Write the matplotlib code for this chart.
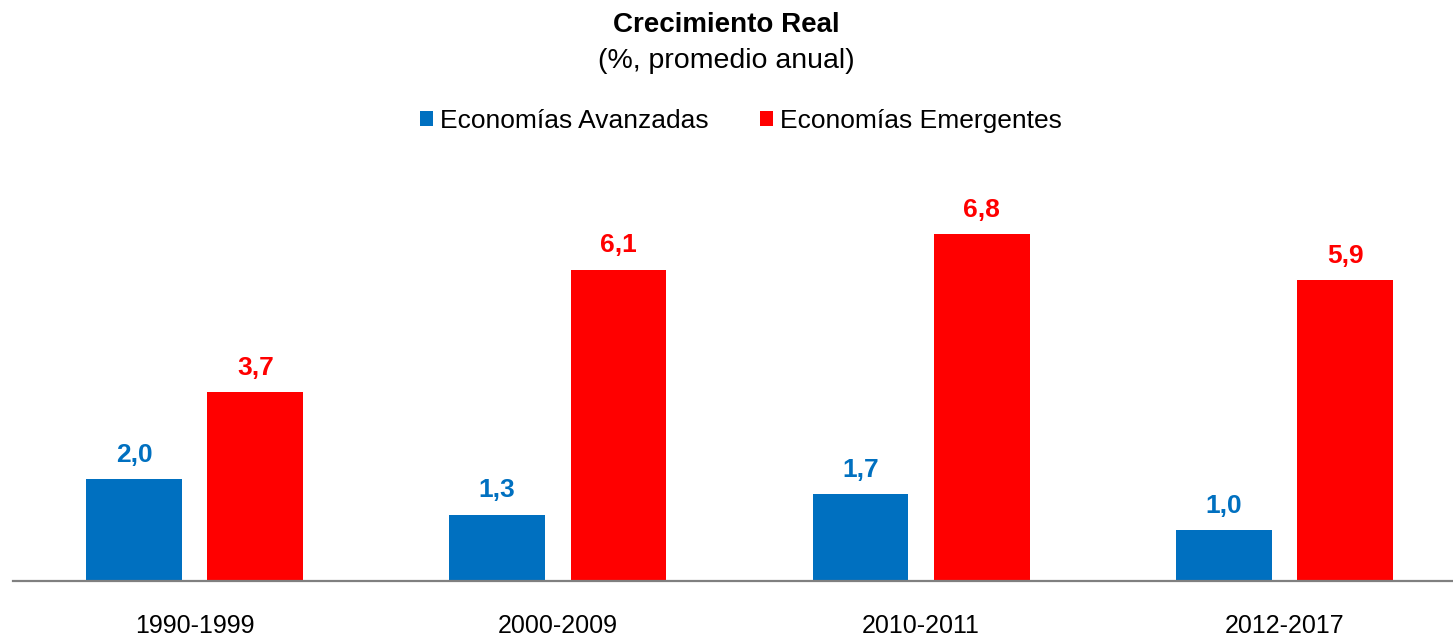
import matplotlib.pyplot as plt
import numpy as np

plt.rcParams['font.family'] = ['Liberation Sans', 'DejaVu Sans']

periods = ["1990-1999", "2000-2009", "2010-2011", "2012-2017"]
avanzadas = [2.0, 1.3, 1.7, 1.0]
emergentes = [3.7, 6.1, 6.8, 5.9]

blue = "#0070C0"
red = "#FF0000"

W, H = 1453, 639
fig = plt.figure(figsize=(W / 100, H / 100), dpi=100)

# axes: baseline at y=581 px, ~51 px per unit
ymax = 8.0
top_px = 581 - ymax * 51
ax = fig.add_axes([13 / W, (H - 581) / H, 1453 / W, (581 - top_px) / H])

x = np.arange(len(periods))
bw = 0.264
off = 0.167
b1 = ax.bar(x - off, avanzadas, bw, color=blue, label="Economías Avanzadas")
b2 = ax.bar(x + off, emergentes, bw, color=red, label="Economías Emergentes")

for bars, vals, c in [(b1, avanzadas, blue), (b2, emergentes, red)]:
    for r, v in zip(bars, vals):
        ax.text(r.get_x() + r.get_width() / 2, v + 0.48, f"{v:.1f}".replace(".", ","),
                ha="center", va="center", fontsize=19, fontweight="bold", color=c)

ax.set_xlim(-0.5, len(periods) - 0.5)
ax.set_ylim(0, ymax)
ax.set_yticks([])
ax.set_xticks(x)
ax.set_xticklabels(periods, fontsize=18)
ax.tick_params(axis="x", length=0, pad=24)
for s in ["top", "right", "left"]:
    ax.spines[s].set_visible(False)
ax.spines["bottom"].set_color("#808080")
ax.spines["bottom"].set_linewidth(1.6)

fig.text(0.5, 1 - 25 / H, "Crecimiento Real", ha="center", va="center",
         fontsize=20, fontweight="bold")
fig.text(0.5, 1 - 61 / H, "(%, promedio anual)", ha="center", va="center", fontsize=20.5)

fig.legend(handles=[b1, b2], loc="center", bbox_to_anchor=(0.51, 1 - 121 / H),
           ncol=2, frameon=False, fontsize=19, handlelength=0.5, handleheight=0.5,
           handletextpad=0.25, columnspacing=1.95)

fig.savefig("out.png", dpi=100)
